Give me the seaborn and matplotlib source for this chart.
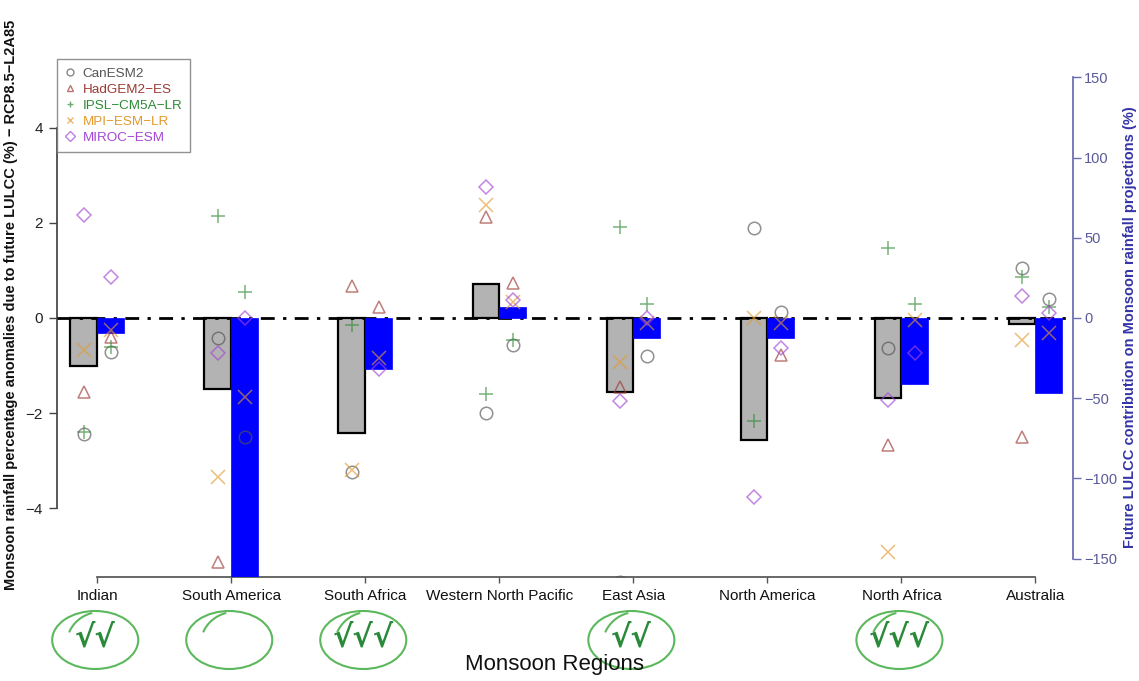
import numpy as np
import pandas as pd
import matplotlib
matplotlib.use("Agg")
import matplotlib.pyplot as plt
import matplotlib.transforms as mtransforms
from matplotlib.patches import Ellipse
from matplotlib.lines import Line2D
import seaborn as sns

# ---------------- data ----------------
regions = ["Indian", "South America", "South Africa", "Western North Pacific",
           "East Asia", "North America", "North Africa", "Australia"]

# ensemble mean anomaly (%), left axis (grey bars)
grey_mean = [-1.01, -1.50, -2.42, 0.72, -1.56, -2.57, -1.69, -0.13]
# LULCC contribution (%), right axis (blue bars)
blue_contrib = [-9.4, -175.0, -32.0, 7.0, -12.5, -12.5, -41.0, -47.0]

models = ["CanESM2", "HadGEM2\u2212ES", "IPSL\u2212CM5A\u2212LR", "MPI\u2212ESM\u2212LR", "MIROC\u2212ESM"]
model_colors = ["#555555", "#9c3a34", "#2e8b35", "#e39a2d", "#a546d6"]
model_markers = ["o", "^", "+", "x", "D"]

nan = np.nan
# per-model anomalies (%), left axis
can_anom = [-2.45, -0.42, -3.24, -2.00, -5.55, 1.90, -0.63, 1.05]
had_anom = [-1.56, -5.14, 0.67, 2.13, -1.45, nan, -2.67, -2.50]
ipsl_anom = [-2.40, 2.15, -0.15, -1.60, 1.92, -2.17, 1.47, 0.86]
mpi_anom = [-0.67, -3.35, -3.20, 2.38, -0.93, 0.00, -4.93, -0.46]
miroc_anom = [2.17, -0.74, nan, 2.76, -1.75, -3.77, -1.73, 0.46]

# per-model contribution (%), right axis
can_contrib = [-21.0, -74.0, nan, -17.0, -24.0, 4.0, nan, 12.0]
had_contrib = [-12.0, nan, 7.0, 22.0, nan, -23.0, nan, nan]
ipsl_contrib = [-18.0, 16.0, nan, -14.0, 9.0, nan, 9.0, 7.0]
mpi_contrib = [-7.5, -49.0, -25.0, 10.0, -3.0, -3.0, -1.0, -9.4]
miroc_contrib = [25.6, 0.0, -32.0, 11.0, 0.0, -19.0, -22.0, 3.0]

anoms = [can_anom, had_anom, ipsl_anom, mpi_anom, miroc_anom]
contribs = [can_contrib, had_contrib, ipsl_contrib, mpi_contrib, miroc_contrib]

circled = [1, 1, 1, 0, 1, 0, 1, 0]
n_checks = [2, 0, 3, 0, 2, 0, 3, 0]

# ---------------- style ----------------
sns.set_theme(style="white")
plt.rcParams["font.family"] = ["Liberation Sans", "DejaVu Sans"]
plt.rcParams["axes.unicode_minus"] = True

fig = plt.figure(figsize=(11.39, 6.81), dpi=100)
ax = fig.add_axes([0.05004, 0.15272, 0.89201, 0.76065])
ax2 = ax.twinx()
ax.set_zorder(1)
ax.patch.set_visible(False)
ax2.set_zorder(2)

x = np.arange(1, len(regions) + 1)
off = 0.1
bw = 0.2

ax.bar(x - off, grey_mean, width=bw, color="#b3b3b3", edgecolor="black", linewidth=1.6, zorder=2)
ax2.bar(x + off, blue_contrib, width=bw, color="#0000ff", edgecolor="#0000ff", linewidth=0.5, zorder=2)

ax2.axhline(0, color="black", lw=2.0, ls=(0, (5, 3, 1.2, 3)), zorder=1)

for vals, cvals, c, m in zip(anoms, contribs, model_colors, model_markers):
    d1 = pd.DataFrame({"x": x - off, "y": vals}).dropna()
    d2 = pd.DataFrame({"x": x + off, "y": cvals}).dropna()
    ms = 9 if m in ("o", "^") else (7.5 if m == "D" else 10)
    for dd, a in ((d1, ax), (d2, ax2)):
        sns.lineplot(data=dd, x="x", y="y", ax=a, marker=m, linestyle="", color=c,
                     ms=ms, mfc="none", mec=c, mew=1.1, alpha=0.65,
                     estimator=None, sort=False, errorbar=None, legend=False, zorder=4)

ax.set_xlim(0.70, 8.28)
ax.set_ylim(-5.45, 5.45)
ax2.set_ylim(-161.5, 161.5)

# left axis
ax.set_yticks([-4, -2, 0, 2, 4])
ax.set_yticklabels(["\u22124", "\u22122", "0", "2", "4"], fontsize=11, color="#222222")
ax.set_xticks(x)
ax.set_xticklabels(regions, fontsize=11, color="#111111")
ax.tick_params(axis="y", left=True, length=6, width=1, color="#444444", pad=4)
ax.tick_params(axis="x", bottom=True, length=4, width=1, color="#555555", pad=5)
for s in ("top", "right"):
    ax.spines[s].set_visible(False)
ax.spines["left"].set_bounds(-4, 4)
ax.spines["left"].set_color("#444444")
ax.spines["bottom"].set_bounds(1, 8)
ax.spines["bottom"].set_color("#555555")
ax.set_xlabel("")
ax.set_ylabel("Monsoon rainfall percentage anomalies due to future LULCC (%) \u2212 RCP8.5\u2212L2A85",
              fontsize=10.5, fontweight="bold", color="#111111")
ax.yaxis.set_label_coords(-0.038, 0.525)

# right axis
ax2.set_yticks([-150, -100, -50, 0, 50, 100, 150])
ax2.set_yticklabels(["\u2212150", "\u2212100", "\u221250", "0", "50", "100", "150"], fontsize=10.5, color="#5a5a9a")
ax2.tick_params(axis="y", right=True, length=6, width=1, color="#6a6ab0", pad=2)
for s in ("top", "left", "bottom"):
    ax2.spines[s].set_visible(False)
ax2.spines["right"].set_bounds(-150, 150)
ax2.spines["right"].set_color("#6a6ab0")
ax2.set_xlabel("")
ax2.set_ylabel("Future LULCC contribution on Monsoon rainfall projections (%)",
               fontsize=10.5, fontweight="bold", color="#3434a8")
ax2.yaxis.set_label_coords(1.049, 0.483)

# legend
handles = [Line2D([], [], marker=m, ls="", mfc="none", mec=c, color=c, ms=5, mew=1, alpha=0.7)
           for c, m in zip(model_colors, model_markers)]
leg = ax2.legend(handles, models, loc="upper left", bbox_to_anchor=(0.0, 1.0), borderaxespad=0,
                 fontsize=9.7, frameon=True, fancybox=False, edgecolor="#777777",
                 handlelength=0.8, handletextpad=0.5, labelspacing=0.27, borderpad=0.6)
leg.get_frame().set_linewidth(1)
for t, c in zip(leg.get_texts(), model_colors):
    t.set_color(c)

# x label
fig.text(0.487, 0.024, "Monsoon Regions", fontsize=16, ha="center", va="center", color="#111111")

# green ellipses with check marks below the region names
tr = mtransforms.blended_transform_factory(ax.transData, fig.transFigure)
px = 1.0 / 134.0
fy = 1.0 / 681.0
yc = 1 - 640 * fy
theta = np.deg2rad(np.linspace(105, 155, 30))
for xi, circ, nc in zip(x, circled, n_checks):
    if not circ:
        continue
    e = Ellipse((xi - 2 * px, yc), width=86 * px, height=58 * fy, transform=tr,
                fill=False, edgecolor="#5cb85c", lw=1.5, clip_on=False)
    fig.add_artist(e)
    arc = Line2D(xi + 3 * px + 34 * px * np.cos(theta), yc - 6 * fy + 34 * fy * np.sin(theta),
                 transform=tr, color="#5cb85c", lw=1.5, clip_on=False)
    fig.add_artist(arc)
    if nc:
        fig.text(0, 0, "\u221a" * nc, transform=tr, fontsize=22, fontweight="bold",
                 color="#2a8a3a", ha="center", va="center", family=["DejaVu Sans"])
        fig.texts[-1].set_position((xi - 2 * px, yc + 2 * fy))

fig.savefig("out.png", dpi=100)
